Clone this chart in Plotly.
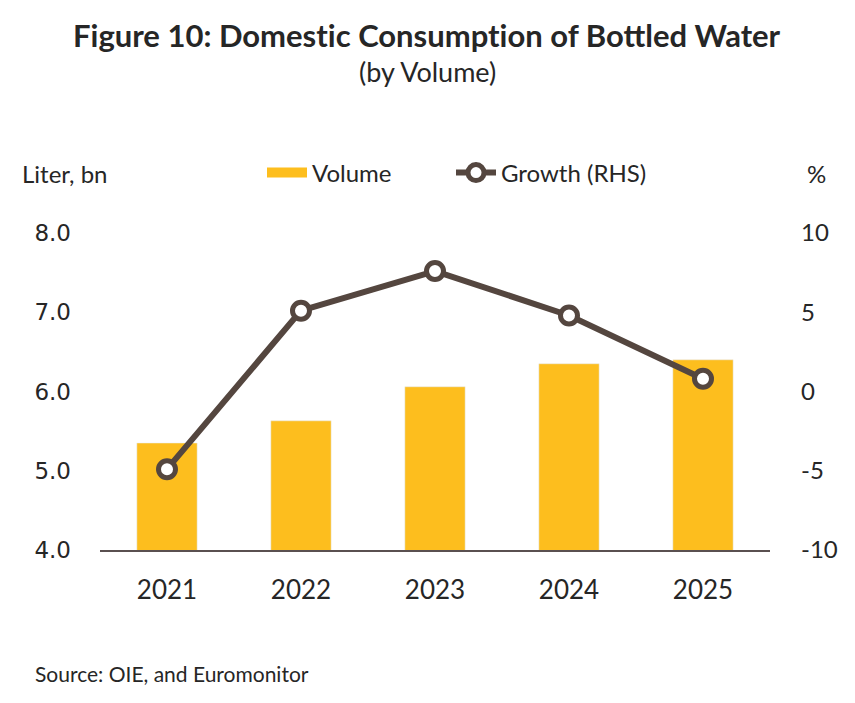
import plotly.graph_objects as go

years = ["2021", "2022", "2023", "2024", "2025"]
volume = [5.35, 5.63, 6.06, 6.35, 6.40]
growth = [-4.9, 5.1, 7.6, 4.8, 0.8]
left_ticks = [4.0, 5.0, 6.0, 7.0, 8.0]
right_ticks = [-10, -5, 0, 5, 10]

FONT = "Lato"
TXT = "#262626"
BAR = "#FDBE1E"
LINE = "#54463F"

fig = go.Figure()
fig.add_trace(go.Bar(x=years, y=volume, name="Volume", marker_color=BAR, width=0.45,
                     showlegend=False, legendgroup="vol"))
# legend swatch for the bars (wide rectangle like the reference)
fig.add_trace(go.Scatter(x=[None], y=[None], name="Volume", mode="lines",
                         line=dict(color=BAR, width=15), legendgroup="vol", legend="legend"))
fig.add_trace(go.Scatter(x=years, y=growth, name="Growth (RHS)", yaxis="y2",
                         mode="lines+markers", legend="legend2",
                         line=dict(color=LINE, width=6),
                         marker=dict(size=17, color="white", line=dict(color=LINE, width=5))))

H_plot = 703 - 233 - 153
W_plot = 855 - 100 - 85
def py(ypix):
    return (703 - 153 - ypix) / H_plot
def px(xpix):
    return (xpix - 100) / W_plot

leg_common = dict(orientation="h", xanchor="left", y=py(173), yanchor="middle",
                  font=dict(size=24, color=TXT), itemwidth=40, bgcolor="rgba(0,0,0,0)")

ZW = "\u200c"  # break the "ti" ligature
title = f"Figure 10: Domest{ZW}ic Consumpt{ZW}ion of Bottled Water"

fig.update_layout(
    width=855, height=703,
    margin=dict(l=100, r=85, t=233, b=153),
    paper_bgcolor="white", plot_bgcolor="white",
    font=dict(family=FONT, color=TXT, size=22),
    showlegend=True,
    legend=dict(x=px(262), **leg_common),
    legend2=dict(x=px(451), **leg_common),
    xaxis=dict(showgrid=False, showline=True, linecolor="#5a5050", linewidth=2,
               ticks="", tickfont=dict(size=26, color=TXT), ticklabelstandoff=16),
    yaxis=dict(range=[4.0, 8.0], tickvals=left_ticks, ticktext=[f"{v:.1f}" for v in left_ticks],
               showgrid=False, zeroline=False, showline=False, ticks="",
               tickfont=dict(size=23, color=TXT, family="DejaVu Sans"), ticklabelstandoff=28),
    yaxis2=dict(range=[-10, 10], tickvals=right_ticks, ticktext=[str(v) for v in right_ticks],
                overlaying="y", side="right",
                showgrid=False, zeroline=False, showline=False, ticks="",
                tickfont=dict(size=24, color=TXT), ticklabelstandoff=30),
    annotations=[
        dict(text=f"<b>{title}</b>",
             x=px(427), y=py(35), xanchor="center", yanchor="middle",
             font=dict(size=31, color=TXT)),
        dict(text="(by Volume)", x=px(427), y=py(71), xanchor="center", yanchor="middle",
             font=dict(size=27, color=TXT)),
        dict(text="Liter, bn", x=px(20), y=py(173), xanchor="left", yanchor="middle",
             font=dict(size=24, color=TXT)),
        dict(text="%", x=px(828), y=py(173), xanchor="right", yanchor="middle",
             font=dict(size=24, color=TXT)),
        dict(text="Source: OIE, and Euromonitor", x=px(33), y=py(673), xanchor="left",
             yanchor="middle", font=dict(size=21, color=TXT)),
    ],
)
for a in fig.layout.annotations:
    a.update(xref="paper", yref="paper", showarrow=False)

fig.write_html("out.html")
